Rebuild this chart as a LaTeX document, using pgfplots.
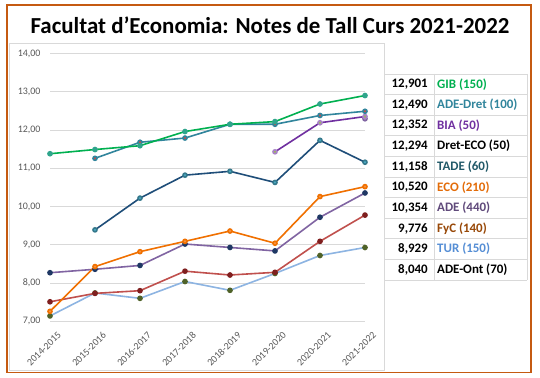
\documentclass[border=0pt]{standalone}
\usepackage{pgfplots}
\pgfplotsset{compat=1.18}
\usepackage{fontspec}
\setmainfont{Carlito}
\definecolor{frameorange}{HTML}{C55A11}
\definecolor{gridgray}{HTML}{D9D9D9}
\definecolor{ticktext}{HTML}{595959}
\definecolor{cGIB}{HTML}{00B050}
\definecolor{cGIBm}{HTML}{2FA58C}
\definecolor{cDret}{HTML}{31859C}
\definecolor{cDretm}{HTML}{C0504D}
\definecolor{cBIA}{HTML}{7030A0}
\definecolor{cBIAm}{HTML}{9BBB59}
\definecolor{cDECO}{HTML}{8064A2}
\definecolor{cTADE}{HTML}{1F4E79}
\definecolor{cTADEm}{HTML}{4BACC6}
\definecolor{cECO}{HTML}{F07000}
\definecolor{cECOm}{HTML}{F79646}
\definecolor{cADE}{HTML}{8064A2}
\definecolor{cADEm}{HTML}{1F3864}
\definecolor{cFyC}{HTML}{C0504D}
\definecolor{cFyCm}{HTML}{7F1F1F}
\definecolor{cTUR}{HTML}{8DB4E2}
\definecolor{cTURm}{HTML}{4F6228}
\definecolor{tTADE}{HTML}{215968}
\definecolor{tECO}{HTML}{E36C09}
\definecolor{tADE}{HTML}{604A7B}
\definecolor{tFyC}{HTML}{984807}
\definecolor{tTUR}{HTML}{558ED5}
\begin{document}
\begin{tikzpicture}
\useasboundingbox (0bp,0bp) rectangle (540bp,378bp);
\begin{scope}[x=1bp,y=1bp]
\fill[white] (0,0) rectangle (540,378);
\draw[gridgray, line width=0.8bp] (9,8) rectangle (384,335);
\draw[frameorange, line width=1.6bp] (7,5.5) rectangle (531,373);
\node[font=\bfseries\fontsize{23}{26}\selectfont, anchor=base] at (270,345) {Facultat d’Economia: Notes de Tall Curs 2021-2022};
\end{scope}
\begin{axis}[
  at={(50bp,56.7bp)}, anchor=south west, scale only axis,
  width=315bp, height=267.8bp,
  xmin=0, xmax=7, ymin=7, ymax=14,
  axis line style={draw=none}, tick style={draw=none},
  ytick={7,8,...,14}, ymajorgrids,
  grid style={gridgray, line width=0.8bp},
  xtick={0,...,7},
  xticklabels={2014-2015,2015-2016,2016-2017,2017-2018,2018-2019,2019-2020,2020-2021,2021-2022},
  xticklabel style={xshift=7bp, yshift=-5bp, rotate=45, anchor=north east, font=\fontsize{10}{11}\selectfont, color=ticktext},
  yticklabel style={font=\fontsize{10}{11}\selectfont, color=ticktext, xshift=-6bp,
    /pgf/number format/.cd, fixed, fixed zerofill, precision=2, use comma},
  /pgf/number format/assume math mode=true,
  clip=false,
  every axis plot/.append style={line width=1.6bp, mark=*, mark size=2bp},
]
\addplot[cTUR, mark options={fill=cTURm, draw=cTURm}] coordinates {(0,7.14)(1,7.74)(2,7.60)(3,8.04)(4,7.81)(5,8.25)(6,8.72)(7,8.929)};
\addplot[cFyC, mark options={fill=cFyCm, draw=cFyCm}] coordinates {(0,7.51)(1,7.73)(2,7.80)(3,8.31)(4,8.21)(5,8.28)(6,9.09)(7,9.776)};
\addplot[cADE, mark options={fill=cADEm, draw=cADEm}] coordinates {(0,8.27)(1,8.36)(2,8.46)(3,9.02)(4,8.93)(5,8.84)(6,9.72)(7,10.354)};
\addplot[cECO, mark options={fill=cECOm, draw=cECO}] coordinates {(0,7.26)(1,8.43)(2,8.82)(3,9.09)(4,9.36)(5,9.04)(6,10.26)(7,10.520)};
\addplot[cTADE, mark options={fill=cTADEm, draw=cTADEm!70!black}] coordinates {(1,9.39)(2,10.22)(3,10.82)(4,10.92)(5,10.63)(6,11.73)(7,11.158)};
\addplot[cDECO, only marks, mark options={fill=cDECO!70, draw=cDECO}] coordinates {(7,12.294)};
\addplot[cBIA, mark options={fill=cBIAm, draw=cBIA!60}] coordinates {(5,11.43)(6,12.19)(7,12.352)};
\addplot[cDret, mark options={fill=cDretm, draw=cDret}] coordinates {(1,11.26)(2,11.68)(3,11.79)(4,12.15)(5,12.15)(6,12.38)(7,12.490)};
\addplot[cGIB, mark options={fill=cGIBm, draw=cGIBm}] coordinates {(0,11.38)(1,11.49)(2,11.59)(3,11.96)(4,12.15)(5,12.22)(6,12.68)(7,12.901)};
\end{axis}
\begin{scope}[x=1bp,y=1bp]
\foreach \i in {0,...,10} {\draw[gridgray, line width=0.7bp] (384,{304-20.6*\i}) -- (527,{304-20.6*\i});}
\draw[gridgray, line width=0.7bp] (434,304) -- (434,98);
\draw[gridgray, line width=0.7bp] (527,304) -- (527,98);
\foreach \n/\lab/\col [count=\i from 0] in {
  12{,}901/GIB (150)/cGIB,
  12{,}490/ADE-Dret (100)/cDret,
  12{,}352/BIA (50)/cBIA,
  12{,}294/Dret-ECO (50)/black,
  11{,}158/TADE (60)/tTADE,
  10{,}520/ECO (210)/tECO,
  10{,}354/ADE (440)/tADE,
  9{,}776/FyC (140)/tFyC,
  8{,}929/TUR (150)/tTUR,
  8{,}040/ADE-Ont (70)/black} {
  \node[anchor=east, font=\bfseries\fontsize{13}{15}\selectfont, inner sep=0pt] at (428,{304-20.6*\i-10.3}) {\n};
  \node[anchor=west, text=\col, font=\bfseries\fontsize{13}{15}\selectfont, inner sep=0pt] at (437,{304-20.6*\i-10.3}) {\lab};
}
\end{scope}
\end{tikzpicture}
\end{document}
